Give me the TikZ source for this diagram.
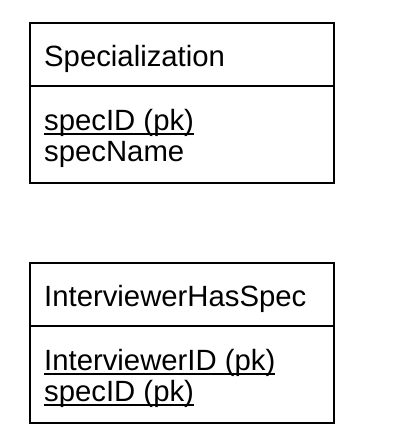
\documentclass[tikz,border=0pt]{standalone}
\usepackage{fontspec}
\setmainfont{Liberation Sans}
\usetikzlibrary{positioning}

% key attribute: text with a rule through the descenders
\newcommand{\pkfield}[1]{\setbox0=\hbox{#1}\rlap{\rule[-4.3pt]{\wd0}{2pt}}\box0}

\tikzset{
  entbox/.style={draw, line width=1.6pt, minimum width=304pt, inner sep=0pt, outer sep=0pt},
  enttext/.style={anchor=base west, inner sep=0pt, font=\fontsize{29.3}{32}\selectfont},
}

\begin{document}
\begin{tikzpicture}
  \useasboundingbox (0,0) rectangle (400pt,446pt);
  % Specialization
  \node[entbox, minimum height=63pt, anchor=north west] (spechead) at (30pt,423pt) {};
  \node[entbox, minimum height=97pt, below=0pt of spechead] (specbody) {};
  \node[enttext] (specname) at ([shift={(14pt,-44pt)}]spechead.north west) {Specialization};
  \node[enttext] (specid) at ([shift={(14pt,-44.5pt)}]specbody.north west) {\pkfield{specID (pk)}};
  \node[enttext] (specnm) at ([shift={(14pt,-76pt)}]specbody.north west) {specName};

  % InterviewerHasSpec
  \node[entbox, minimum height=63pt, anchor=north west] (ihshead) at (30pt,183pt) {};
  \node[entbox, minimum height=97pt, below=0pt of ihshead] (ihsbody) {};
  \node[enttext] (ihsname) at ([shift={(14pt,-44pt)}]ihshead.north west) {InterviewerHasSpec};
  \node[enttext] (ihsiid) at ([shift={(14pt,-45pt)}]ihsbody.north west) {\pkfield{InterviewerID (pk)}};
  \node[enttext] (ihssid) at ([shift={(14pt,-76pt)}]ihsbody.north west) {\pkfield{specID (pk)}};
\end{tikzpicture}
\end{document}
